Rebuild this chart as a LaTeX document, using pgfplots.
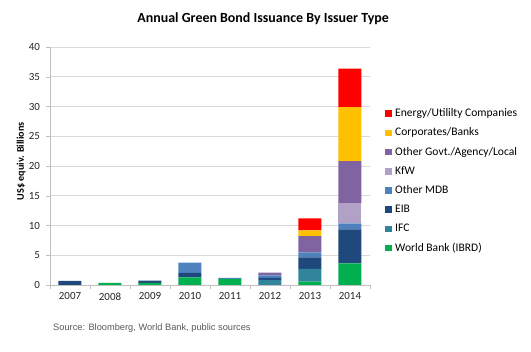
\documentclass[border=0pt]{standalone}
\usepackage{fontspec}
\setmainfont{Carlito}
\newfontfamily\arialf{Liberation Sans}
\usepackage{pgfplots}
\pgfplotsset{compat=1.18}
\definecolor{cEnergy}{RGB}{255,0,0}
\definecolor{cCorp}{RGB}{255,192,0}
\definecolor{cGovt}{RGB}{128,100,162}
\definecolor{cKfW}{RGB}{178,161,199}
\definecolor{cMDB}{RGB}{79,129,189}
\definecolor{cEIB}{RGB}{31,73,125}
\definecolor{cIFC}{RGB}{49,133,155}
\definecolor{cIBRD}{RGB}{0,176,80}
\definecolor{cGrid}{RGB}{217,217,217}
\definecolor{cAxis}{RGB}{191,191,191}
\definecolor{cSrc}{RGB}{89,89,89}
\pgfplotsset{sqleg/.style={legend image code/.code={\fill[##1] (0bp,-3.2bp) rectangle (6.5bp,3.2bp);}}}
\begin{document}
\begin{tikzpicture}[x=1bp,y=1bp]
\begin{axis}[
  name=ax,
  scale only axis, width=320bp, height=238bp,
  xmin=-0.5, xmax=7.5, ymin=0, ymax=40,
  ybar stacked, bar width=23bp,
  xtick={0,...,7},
  xticklabels={2007,2008,2009,2010,2011,2012,2013,2014},
  minor xtick={-0.5,0.5,...,7.5},
  major x tick style={draw=none},
  minor x tick style={draw=cAxis},
  minor tick length=4bp,
  ytick={0,5,...,40},
  major tick length=4bp,
  tick align=outside,
  ytick style={draw=cAxis},
  ymajorgrids, grid style={draw=cGrid, line width=0.8bp},
  axis x line*=bottom, axis y line*=left,
  axis line style={draw=cAxis, line width=0.8bp},
  tick label style={font=\fontsize{11}{13}\selectfont, text=black!85},
  yticklabel style={xshift=-2.5bp},
  /pgf/number format/assume math mode=true,
  title={Annual Green Bond Issuance By Issuer Type},
  title style={font=\bfseries\fontsize{14}{16}\selectfont, at={(0.666,1)}, anchor=center, yshift=22bp},
  ylabel={US\$ equiv. Billions},
  ylabel style={font=\bfseries\fontsize{10.2}{12}\selectfont, at={(axis description cs:0,0.52)}, anchor=center, yshift=29bp},
  reverse legend,
  legend cell align=left,
  legend style={at={(1,1)}, anchor=north west, xshift=15bp, yshift=-60.5bp,
    draw=none, fill=none, inner sep=0pt,
    font=\fontsize{11.6}{13}\selectfont,
    nodes={inner sep=0.5bp, text height=8.5bp, text depth=2.5bp},
    /tikz/every odd column/.style={column sep=3bp},
    row sep=7.2bp},
]
\addplot[fill=cIBRD, draw=none, sqleg] coordinates {(0,0) (1,0.35) (2,0.35) (3,1.3) (4,1.05) (5,0) (6,0.55) (7,3.65)};
\addlegendentry{World Bank (IBRD)}
\addplot[fill=cIFC, draw=none, sqleg] coordinates {(0,0) (1,0) (2,0) (3,0) (4,0) (5,0.85) (6,2.15) (7,0)};
\addlegendentry{IFC}
\addplot[fill=cEIB, draw=none, sqleg] coordinates {(0,0.7) (1,0) (2,0.4) (3,0.75) (4,0) (5,0.35) (6,1.95) (7,5.7)};
\addlegendentry{EIB}
\addplot[fill=cMDB, draw=none, sqleg] coordinates {(0,0) (1,0) (2,0) (3,1.7) (4,0.15) (5,0.4) (6,0.85) (7,1.0)};
\addlegendentry{Other MDB}
\addplot[fill=cKfW, draw=none, sqleg] coordinates {(0,0) (1,0) (2,0) (3,0) (4,0) (5,0) (6,0) (7,3.45)};
\addlegendentry{KfW}
\addplot[fill=cGovt, draw=none, sqleg] coordinates {(0,0) (1,0) (2,0) (3,0) (4,0) (5,0.5) (6,2.7) (7,7.0)};
\addlegendentry{Other Govt./Agency/Local}
\addplot[fill=cCorp, draw=none, sqleg] coordinates {(0,0) (1,0) (2,0) (3,0) (4,0) (5,0) (6,1.0) (7,9.1)};
\addlegendentry{Corporates/Banks}
\addplot[fill=cEnergy, draw=none, sqleg] coordinates {(0,0) (1,0) (2,0) (3,0) (4,0) (5,0) (6,2.0) (7,6.45)};
\addlegendentry{Energy/Utililty Companies}
\end{axis}
\node[anchor=west, text=cSrc, inner sep=0pt, font=\arialf\fontsize{9.3}{11}\selectfont] at ([xshift=3bp,yshift=-43bp]ax.south west) {Source: Bloomberg, World Bank, public sources};
\pgfresetboundingbox
\path[use as bounding box] ([xshift=-50bp,yshift=-67bp]ax.south west) rectangle ++(531bp,352bp);
\end{tikzpicture}
\end{document}
